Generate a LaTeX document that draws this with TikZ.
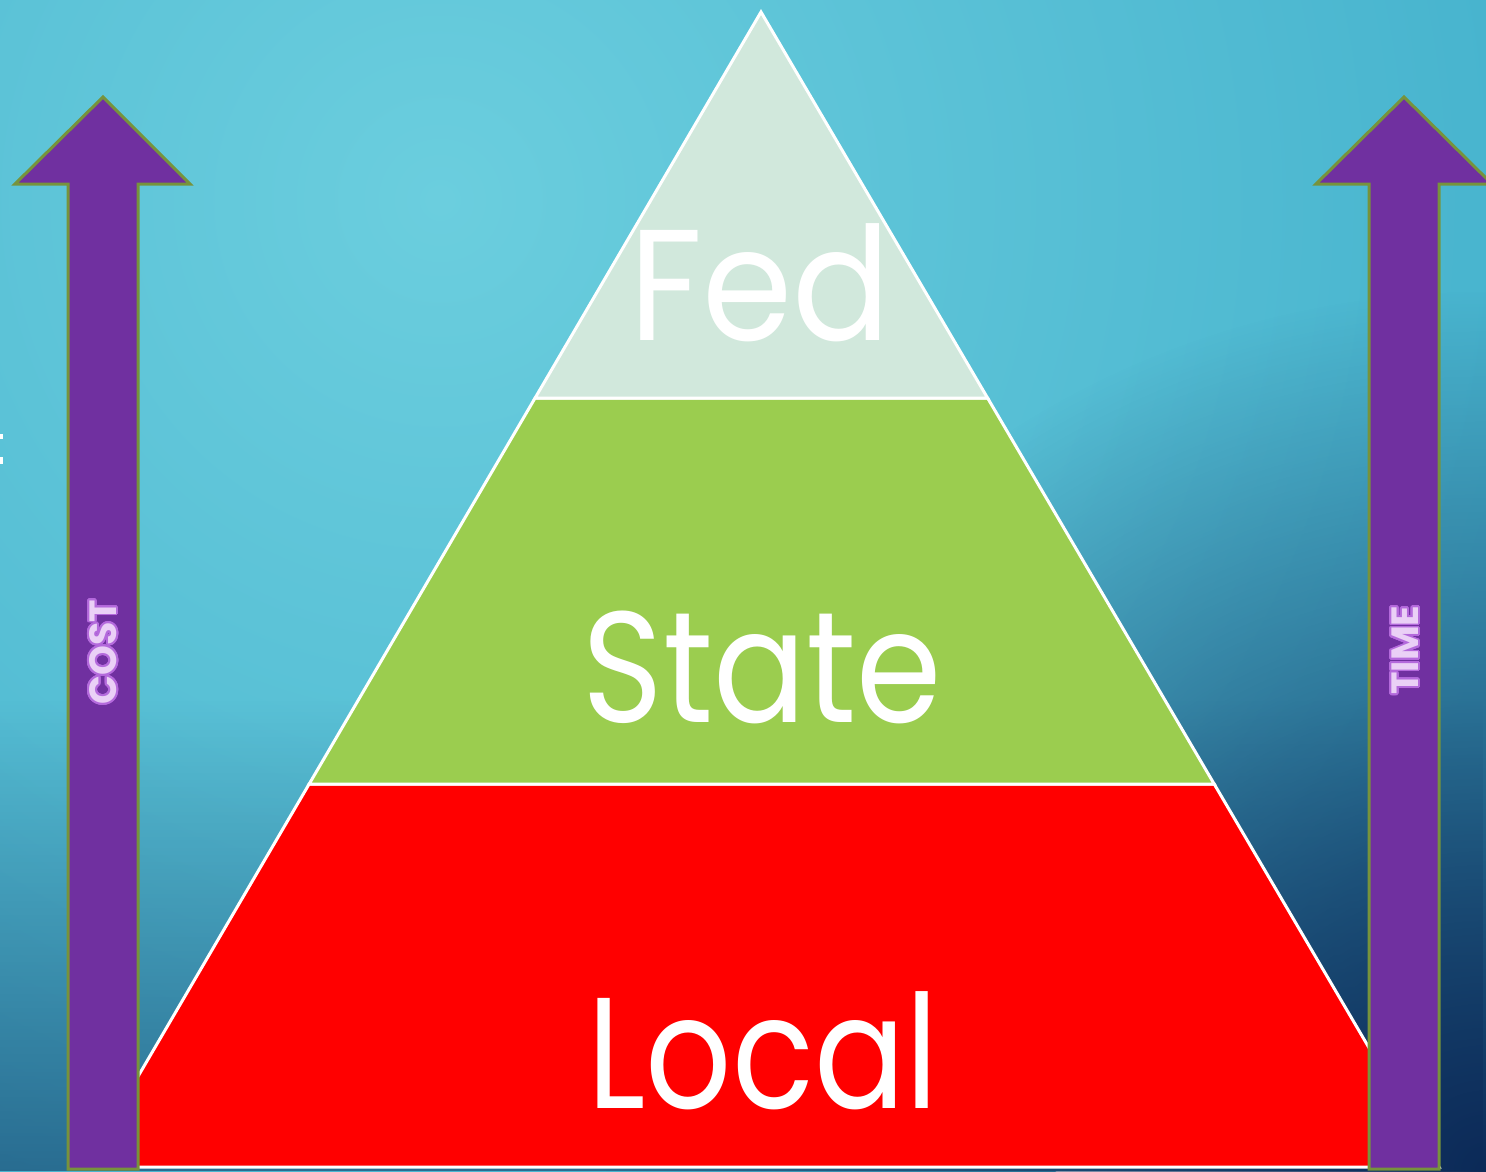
\documentclass[tikz,border=0pt]{standalone}
\usepackage{fontspec}
\setmainfont{Poppins}
\newfontfamily\labfont{Poppins}
\usepackage{contour}
\contournumber{32}
\usetikzlibrary{calc,fadings}
\definecolor{bglight}{HTML}{6BCEDE}
\definecolor{bgmid}{HTML}{45B2CD}
\definecolor{bgdark}{HTML}{0C2A58}
\definecolor{fedc}{HTML}{D1E8DC}
\definecolor{statec}{HTML}{9BCD4F}
\definecolor{localc}{HTML}{FF0000}
\definecolor{arrowfill}{HTML}{7030A0}
\definecolor{arrowedge}{HTML}{77933C}
\definecolor{arrowtext}{HTML}{EAD0F6}
\definecolor{arrowglow}{HTML}{B46ADC}
\tikzfading[name=vfade, top color=transparent!100, bottom color=transparent!48]
\tikzfading[name=rfade, inner color=transparent!0, outer color=transparent!100]
\tikzset{
  tier/.style={draw=white, line width=3pt, line join=miter},
  bigarrow/.style={fill=arrowfill, draw=arrowedge, line width=3pt, line join=miter},
  tierlabel/.style={text=white, font=\labfont\fontsize{158}{158}\selectfont, anchor=base, inner sep=0pt},
  arrowlabel/.style={font=\labfont\bfseries\fontsize{38}{38}\selectfont, rotate=90, inner sep=0pt, text=arrowtext}
}
\begin{document}
\begin{tikzpicture}[x=1pt,y=-1pt]
\useasboundingbox (0,0) rectangle (1486,1171);
\begin{scope}
  \clip (0,0) rectangle (1486,1171);
  \fill[bgmid] (0,0) rectangle (1486,1171);
  \shade[inner color=bglight, outer color=bgmid] (440,200) circle (1150);
  \fill[bgdark, path fading=vfade] (0,700) rectangle (1486,1171);
  \fill[bgdark, path fading=rfade] (1486,1171) circle (880);
  % fragments at left edge
  \fill[white] (0,434) rectangle (3,439);
  \fill[white] (0,457) rectangle (3,464);
  % pyramid
  \coordinate (A) at (761,12);
  \coordinate (BL) at (85,1167);
  \coordinate (BR) at (1439,1167);
  \coordinate (F1) at ($(A)!0.3342!(BL)$);
  \coordinate (F2) at ($(A)!0.3342!(BR)$);
  \coordinate (S1) at ($(A)!0.6684!(BL)$);
  \coordinate (S2) at ($(A)!0.6684!(BR)$);
  \filldraw[tier, fill=localc] (S1) -- (S2) -- (BR) -- (BL) -- cycle;
  \filldraw[tier, fill=statec] (F1) -- (F2) -- (S2) -- (S1) -- cycle;
  \filldraw[tier, fill=fedc] (A) -- (F2) -- (F1) -- cycle;
  % arrows
  \filldraw[bigarrow] (68,1169) -- (68,184) -- (15,184) -- (103,97) -- (190,184) -- (138,184) -- (138,1169) -- cycle;
  \filldraw[bigarrow] (1369,1169) -- (1369,184) -- (1316,184) -- (1404,97) -- (1492,184) -- (1439,184) -- (1439,1169) -- cycle;
\end{scope}
\node[tierlabel] (fed) at (760,340) {\scalebox{0.92}[1]{Fed}};
\node[tierlabel] (state) at (762,722) {\scalebox{0.87}[1]{State}};
\node[tierlabel] (local) at (763,1108) {\scalebox{0.855}[1]{Local}};
\contourlength{1.8pt}
\node[arrowlabel] (cost) at (104,652) {\contour{arrowglow}{COST}};
\node[arrowlabel] (time) at (1406,650) {\contour{arrowglow}{TIME}};
\end{tikzpicture}
\end{document}
